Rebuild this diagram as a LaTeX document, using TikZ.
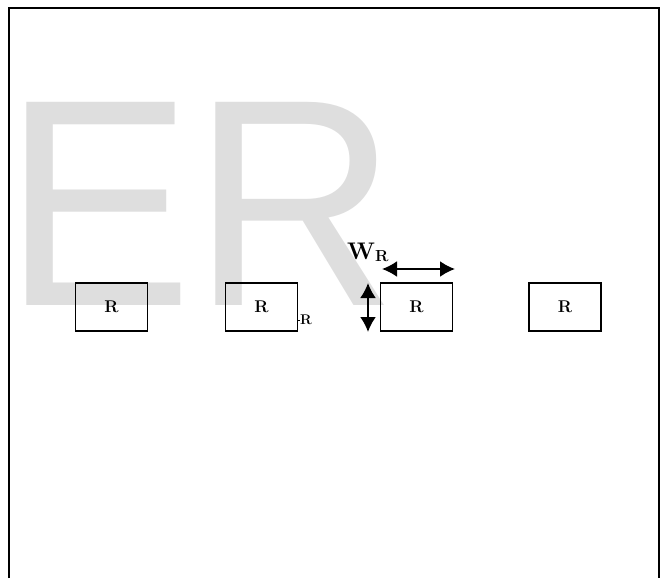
\documentclass[tikz,border=0pt]{standalone}
\usepackage{fontspec}
\usetikzlibrary{arrows.meta}
\newfontfamily\marksans{Liberation Sans}
\definecolor{markgrey}{RGB}{222,222,222}
\tikzset{
  rbox/.style={draw,line width=1.3pt,minimum width=72pt,minimum height=48pt,
    inner sep=0pt,font=\fontsize{17}{17}\selectfont\bfseries},
  dimarrow/.style={line width=2pt,{Latex[length=15pt,width=16pt]}-{Latex[length=15pt,width=16pt]}}
}
\begin{document}
\begin{tikzpicture}[x=1pt,y=-1pt]
    \useasboundingbox (0,0) rectangle (663,578);

    % Watermark letters
    \node[markgrey,anchor=base west,inner sep=0pt,
      font=\marksans\fontsize{284}{284}\selectfont] (mark) at (3,305)
      {\scalebox{1}[1.04]{ER}};

    % Open frame
    \draw[line width=2pt] (8.5,578) -- (8.5,8.5) -- (659,8.5) -- (659,578);

    % Row of boxes
    \foreach \n/\cx in {1/111.5,2/261.5,3/416.5,4/565}{
      \node[rbox] (rbox\n) at (\cx,307) {\raisebox{-5pt}{R}};
    }

    % Gap label beside second box
    \node[font=\fontsize{14}{14}\selectfont\bfseries,inner sep=0pt,anchor=west]
      (gaplabel) at (300,320) {R};
    \draw[line width=0.9pt] (rbox2.east |- gaplabel) -- (gaplabel.west);

    % Height arrow
    \coordinate (htop) at (368,283);
    \coordinate (hbot) at (368,332);
    \draw[dimarrow] (htop) -- (hbot);

    % Width arrow and label
    \coordinate (wleft) at (382,269);
    \coordinate (wright) at (455,269);
    \draw[dimarrow] (wleft) -- (wright);
    \node[anchor=base west,inner sep=0pt,font=\fontsize{24}{24}\selectfont\bfseries]
      (wlabel) at (347,259) {W\raisebox{-2pt}{\fontsize{16}{16}\selectfont R}};
  \end{tikzpicture}
\end{document}
